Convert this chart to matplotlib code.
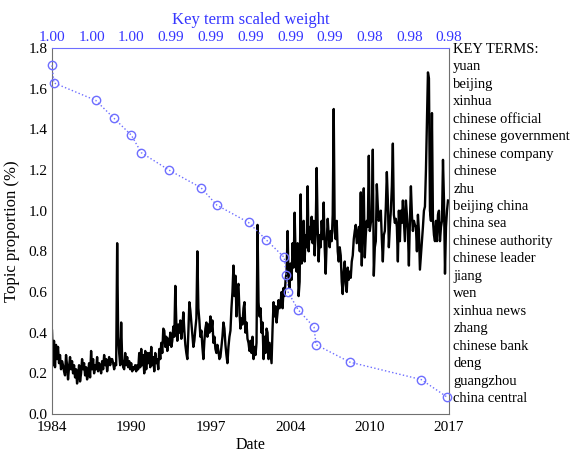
import numpy as np
import matplotlib
matplotlib.use("Agg")
import matplotlib.pyplot as plt

plt.rcParams['font.family'] = ['Liberation Serif', 'DejaVu Serif']

# monthly topic proportion (%), Jan 1984 .. Dec 2016, one row per year
proportion = [
    0.41, 0.24, 0.36, 0.23, 0.34, 0.27, 0.33, 0.25, 0.29, 0.22, 0.26, 0.24,  # 1984
    0.21, 0.19, 0.29, 0.24, 0.17, 0.23, 0.28, 0.22, 0.26, 0.20, 0.24, 0.18,  # 1985
    0.22, 0.15, 0.19, 0.24, 0.16, 0.20, 0.27, 0.22, 0.25, 0.19, 0.23, 0.17,  # 1986
    0.20, 0.25, 0.18, 0.31, 0.22, 0.27, 0.20, 0.24, 0.22, 0.28, 0.21, 0.25,  # 1987
    0.23, 0.20, 0.26, 0.22, 0.29, 0.24, 0.27, 0.21, 0.25, 0.28, 0.24, 0.27,  # 1988
    0.27, 0.25, 0.22, 0.25, 0.24, 0.84, 0.38, 0.30, 0.24, 0.45, 0.27, 0.23,  # 1989
    0.22, 0.30, 0.24, 0.28, 0.23, 0.26, 0.22, 0.25, 0.21, 0.23, 0.22, 0.24,  # 1990
    0.21, 0.24, 0.22, 0.30, 0.23, 0.32, 0.24, 0.29, 0.20, 0.31, 0.22, 0.30,  # 1991
    0.25, 0.30, 0.23, 0.33, 0.24, 0.28, 0.21, 0.30, 0.25, 0.27, 0.22, 0.32,  # 1992
    0.27, 0.35, 0.30, 0.42, 0.41, 0.33, 0.38, 0.31, 0.37, 0.34, 0.40, 0.33,  # 1993
    0.36, 0.43, 0.38, 0.63, 0.45, 0.36, 0.44, 0.40, 0.46, 0.37, 0.42, 0.50,  # 1994
    0.41, 0.34, 0.30, 0.27, 0.40, 0.55, 0.51, 0.45, 0.39, 0.33, 0.36, 0.42,  # 1995
    0.47, 0.80, 0.52, 0.46, 0.38, 0.41, 0.33, 0.27, 0.36, 0.42, 0.45, 0.38,  # 1996
    0.44, 0.40, 0.48, 0.41, 0.46, 0.35, 0.38, 0.32, 0.30, 0.34, 0.31, 0.27,  # 1997
    0.28, 0.33, 0.38, 0.45, 0.42, 0.34, 0.29, 0.25, 0.33, 0.38, 0.41, 0.52,  # 1998
    0.60, 0.73, 0.58, 0.68, 0.48, 0.62, 0.64, 0.50, 0.42, 0.47, 0.44, 0.52,  # 1999
    0.55, 0.40, 0.45, 0.37, 0.35, 0.31, 0.36, 0.30, 0.38, 0.27, 0.33, 0.29,  # 2000
    0.35, 0.93, 0.55, 0.48, 0.52, 0.40, 0.45, 0.27, 0.38, 0.30, 0.42, 0.40,  # 2001
    0.27, 0.35, 0.30, 0.25, 0.42, 0.55, 0.48, 0.53, 0.45, 0.50, 0.56, 0.52,  # 2002
    0.55, 0.60, 0.52, 0.62, 0.58, 0.66, 0.70, 0.90, 0.66, 0.62, 0.74, 0.66,  # 2003
    0.84, 0.72, 0.99, 0.78, 0.70, 0.84, 0.58, 0.65, 1.08, 0.74, 0.80, 0.95,  # 2004
    0.75, 0.88, 0.82, 1.12, 0.80, 0.92, 0.86, 0.97, 0.84, 0.95, 0.78, 0.90,  # 2005
    1.21, 0.92, 0.75, 0.88, 0.82, 0.95, 0.86, 1.04, 0.82, 0.69, 0.85, 0.96,  # 2006
    0.88, 0.82, 0.90, 0.85, 0.98, 1.50, 0.90, 0.86, 0.95, 0.80, 0.75, 0.82,  # 2007
    0.78, 0.65, 0.59, 0.70, 0.75, 0.64, 0.60, 0.72, 0.66, 0.70, 0.67, 0.75,  # 2008
    0.78, 0.86, 0.90, 0.93, 0.84, 0.88, 0.92, 0.80, 1.09, 0.73, 0.98, 1.11,  # 2009
    0.77, 0.88, 0.95, 0.92, 1.27, 0.90, 0.94, 0.96, 1.30, 0.68, 0.82, 0.85,  # 2010
    1.13, 1.02, 0.95, 0.98, 1.00, 0.86, 0.75, 0.88, 0.90, 1.02, 1.19, 1.05,  # 2011
    0.82, 0.92, 1.00, 1.12, 1.33, 0.98, 0.94, 0.96, 0.92, 0.75, 1.00, 0.85,  # 2012
    1.00, 0.94, 1.05, 0.95, 0.85, 1.05, 0.98, 0.90, 0.73, 0.95, 1.12, 0.98,  # 2013
    0.90, 0.95, 0.93, 0.92, 0.80, 0.98, 0.90, 0.71, 0.78, 0.85, 0.92, 1.00,  # 2014
    1.02, 1.20, 1.45, 1.68, 1.65, 1.00, 0.95, 1.48, 0.95, 0.88, 0.85, 0.95,  # 2015
    0.85, 0.98, 1.00, 0.85, 0.92, 0.95, 1.25, 1.05, 0.69, 0.92, 1.00, 1.05,  # 2016
]
start_year = 1984
end_year = 2017

date_ticks = ["1984", "1990", "1997", "2004", "2010", "2017"]

key_terms = ["yuan", "beijing", "xinhua", "chinese official", "chinese government",
             "chinese company", "chinese", "zhu", "beijing china", "china sea",
             "chinese authority", "chinese leader", "jiang", "wen", "xinhua news",
             "zhang", "chinese bank", "deng", "guangzhou", "china central"]
term_weight = [1.0000, 0.9999, 0.9978, 0.9969, 0.9960, 0.9955, 0.9941, 0.9925,
               0.9917, 0.9901, 0.9892, 0.9883, 0.9882, 0.9881, 0.9876, 0.9868,
               0.9867, 0.9850, 0.9814, 0.9801]

blue_txt = "#3636ff"
blue_mark = "#6e6eff"
grey = "#707070"

fig = plt.figure(figsize=(5.74, 4.58), dpi=100)
pos = [52 / 574, 44 / 458, 397 / 574, 366 / 458]

ax = fig.add_axes(pos)
x = start_year + np.arange(len(proportion)) / 12.0
ax.plot(x, proportion, color="black", lw=1.7)
ax.set_xlim(start_year, end_year)
ax.set_ylim(0, 1.8)
ax.set_yticks(np.arange(0, 1.81, 0.2))
ax.set_yticklabels(["%.1f" % v for v in np.arange(0, 1.81, 0.2)])
ax.set_xticks(np.linspace(start_year, end_year, len(date_ticks)))
ax.set_xticklabels(date_ticks)
ax.tick_params(axis="y", length=0, labelsize=11, pad=3)
ax.tick_params(axis="x", length=0, labelsize=11, pad=5)
ax.set_xlabel("Date", fontsize=11.5, labelpad=2)
ax.set_ylabel("Topic proportion (%)", fontsize=12, labelpad=6)
for s in ["left", "bottom", "right"]:
    ax.spines[s].set_color(grey)
ax.spines["top"].set_visible(False)

# key term weights on their own axes, rows aligned with the term list
ax2 = fig.add_axes(pos)
ax2.patch.set_visible(False)
rows = np.arange(len(key_terms))
ax2.plot(term_weight, rows, ls=":", color=blue_mark, lw=1.0, marker="o",
         ms=6, mfc="none", mec=blue_mark, mew=1.0, clip_on=False)
ax2.set_xlim(1.0, 0.98)
ax2.set_ylim(-1 + 366 / 17.45, -1)
wt = np.linspace(1.0, 0.98, 11)
ax2.set_xticks(wt)
ax2.set_xticklabels(["%.2f" % v for v in wt])
ax2.xaxis.tick_top()
ax2.xaxis.set_label_position("top")
ax2.set_xlabel("Key term scaled weight", color=blue_txt, fontsize=12, labelpad=5)
ax2.tick_params(axis="x", colors=blue_txt, length=0, labelsize=11, pad=3)
ax2.yaxis.tick_right()
ax2.set_yticks(np.arange(-1, len(key_terms)))
ax2.set_yticklabels(["KEY TERMS:"] + key_terms)
ax2.tick_params(axis="y", length=0, labelsize=10.5, pad=3)
for s in ["left", "bottom", "right"]:
    ax2.spines[s].set_visible(False)
ax2.spines["top"].set_color(blue_mark)

fig.savefig("out.png", dpi=100)
